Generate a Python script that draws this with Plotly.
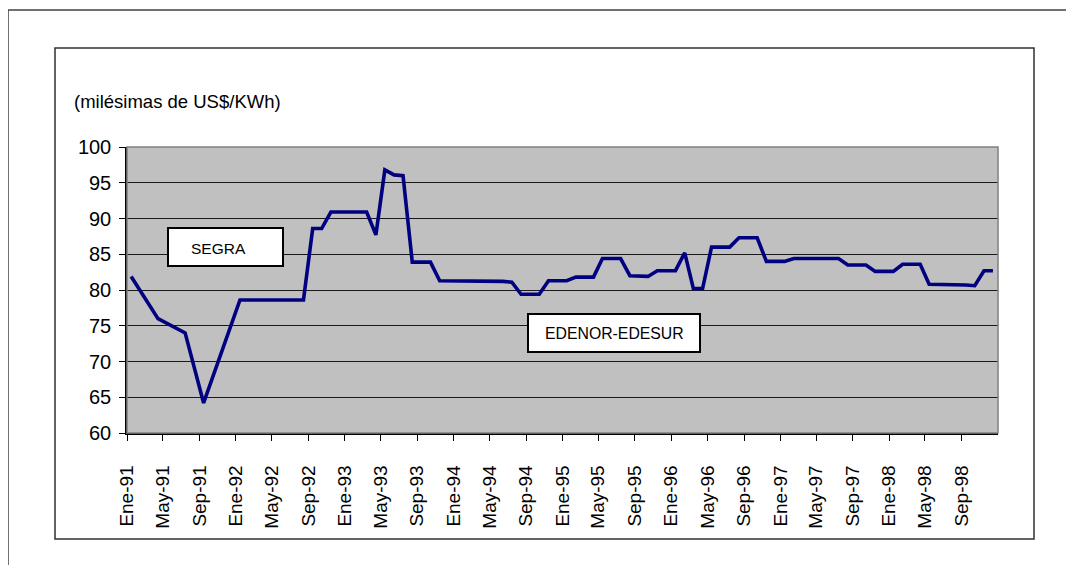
import pandas as pd
import plotly.graph_objects as go

# ---------------- data ----------------
dates_1991 = ["1991-01-15", "1991-04-15", "1991-07-15", "1991-09-15"]
values_1991 = [81.9, 76.0, 74.0, 64.2]

# monthly values Jan-92 .. Dec-98
values_1992 = [78.6, 78.6, 78.6, 78.6, 78.6, 78.6, 78.6, 78.6, 88.6, 88.6, 90.9, 90.9]
values_1993 = [90.9, 90.9, 90.9, 87.7, 96.8, 96.1, 96.0, 83.9, 83.9, 83.9, 81.3, 81.3]
values_1994 = [81.3, 81.3, 81.3, 81.3, 81.2, 81.2, 81.1, 79.4, 79.4, 79.4, 81.3, 81.3]
values_1995 = [81.3, 81.8, 81.8, 81.8, 84.4, 84.4, 84.4, 82.0, 81.9, 81.9, 82.7, 82.7]
values_1996 = [82.7, 85.2, 80.2, 80.2, 86.0, 86.0, 86.0, 87.3, 87.3, 87.3, 84.0, 84.0]
values_1997 = [84.0, 84.4, 84.4, 84.4, 84.4, 84.4, 84.4, 83.5, 83.5, 83.5, 82.6, 82.6]
values_1998 = [82.6, 83.6, 83.6, 83.6, 80.8, 80.8, 80.7, 80.7, 80.7, 80.6, 82.7, 82.7]

tick_dates = list(pd.date_range("1991-01-01", "1998-09-01", freq="4MS"))
tick_labels = ["Ene-91", "May-91", "Sep-91", "Ene-92", "May-92", "Sep-92",
               "Ene-93", "May-93", "Sep-93", "Ene-94", "May-94", "Sep-94",
               "Ene-95", "May-95", "Sep-95", "Ene-96", "May-96", "Sep-96",
               "Ene-97", "May-97", "Sep-97", "Ene-98", "May-98", "Sep-98"]

unit_label = "(milésimas de US$/KWh)"
label_segra = "SEGRA"
label_edenor = "EDENOR-EDESUR"

monthly_values = (values_1992 + values_1993 + values_1994 + values_1995 +
                  values_1996 + values_1997 + values_1998)
monthly_dates = [d + pd.Timedelta(days=14) for d in
                 pd.date_range("1992-01-01", periods=len(monthly_values), freq="MS")]

x_all = [pd.Timestamp(d) for d in dates_1991] + monthly_dates
y_all = values_1991 + monthly_values

# ---------------- layout geometry (pixels in the screenshot) ----------------
OFF = 8  # page body margin
W, H = 1074 - 2 * OFF, 573 - 2 * OFF
PL, PR, PT, PB = 127, 998, 147, 433

def px(xp):
    return (xp - PL) / (PR - PL)

def py(yp):
    return (PB - yp) / (PB - PT)

FONT = "Arial, Liberation Sans, sans-serif"

fig = go.Figure()
fig.add_trace(go.Scatter(
    x=x_all, y=y_all, mode="lines",
    line=dict(color="#000080", width=3.6),
    hoverinfo="x+y", showlegend=False,
))

frame = dict(color="#404040", width=1.5)
shapes = [
    # outer frame: only top and left edges are inside the picture
    dict(type="line", xref="paper", yref="paper", x0=px(8), x1=px(1074),
         y0=py(10), y1=py(10), line=frame, layer="below"),
    dict(type="line", xref="paper", yref="paper", x0=px(8), x1=px(8),
         y0=py(10), y1=py(573), line=frame, layer="below"),
    # inner chart frame
    dict(type="rect", xref="paper", yref="paper", x0=px(55), x1=px(1034),
         y0=py(539), y1=py(48), line=dict(color="#303030", width=1.5), layer="below"),
    # plot area border (top/right gray)
    dict(type="rect", xref="paper", yref="paper", x0=0, x1=1, y0=0, y1=1,
         line=dict(color="#808080", width=1.5), layer="above"),
    # label boxes
    dict(type="rect", xref="paper", yref="paper", x0=px(168), x1=px(283),
         y0=py(266), y1=py(228), fillcolor="white",
         line=dict(color="black", width=2), layer="above"),
    dict(type="rect", xref="paper", yref="paper", x0=px(528), x1=px(700),
         y0=py(352), y1=py(314), fillcolor="white",
         line=dict(color="black", width=2), layer="above"),
]

annotations = [
    dict(text=unit_label, xref="paper", yref="paper", x=px(72), y=py(101),
         xanchor="left", yanchor="middle", showarrow=False,
         font=dict(family=FONT, size=18.5, color="black")),
    dict(text=label_segra, xref="paper", yref="paper", x=px(189), y=py(248),
         xanchor="left", yanchor="middle", showarrow=False,
         font=dict(family=FONT, size=15.5, color="black")),
    dict(text=label_edenor, xref="paper", yref="paper", x=px(614), y=py(333),
         xanchor="center", yanchor="middle", showarrow=False,
         font=dict(family=FONT, size=15.8, color="black")),
]

fig.update_layout(
    width=W, height=H,
    margin=dict(l=PL - OFF, r=(W + OFF) - PR, t=PT - OFF, b=(H + OFF) - PB, pad=0),
    paper_bgcolor="white",
    plot_bgcolor="#C0C0C0",
    shapes=shapes,
    annotations=annotations,
    font=dict(family=FONT, color="black"),
    xaxis=dict(
        type="date",
        range=["1991-01-01", "1999-01-01"],
        tickmode="array", tickvals=tick_dates, ticktext=tick_labels,
        tickangle=-90, tickfont=dict(family=FONT, size=19, color="black"),
        ticks="outside", ticklen=6, tickcolor="black", tickwidth=1,
        ticklabelstandoff=17,
        showgrid=False, zeroline=False,
        showline=True, linecolor="black", linewidth=1.5,
        fixedrange=True,
    ),
    yaxis=dict(
        range=[60, 100], tickmode="linear", tick0=60, dtick=5,
        tickfont=dict(family=FONT, size=20, color="black"),
        ticks="outside", ticklen=6, tickcolor="black", tickwidth=1,
        ticklabelstandoff=4,
        showgrid=True, gridcolor="#1a1a1a", gridwidth=1,
        zeroline=False,
        showline=True, linecolor="black", linewidth=1.5,
        fixedrange=True,
    ),
)

fig.write_html("out.html")
